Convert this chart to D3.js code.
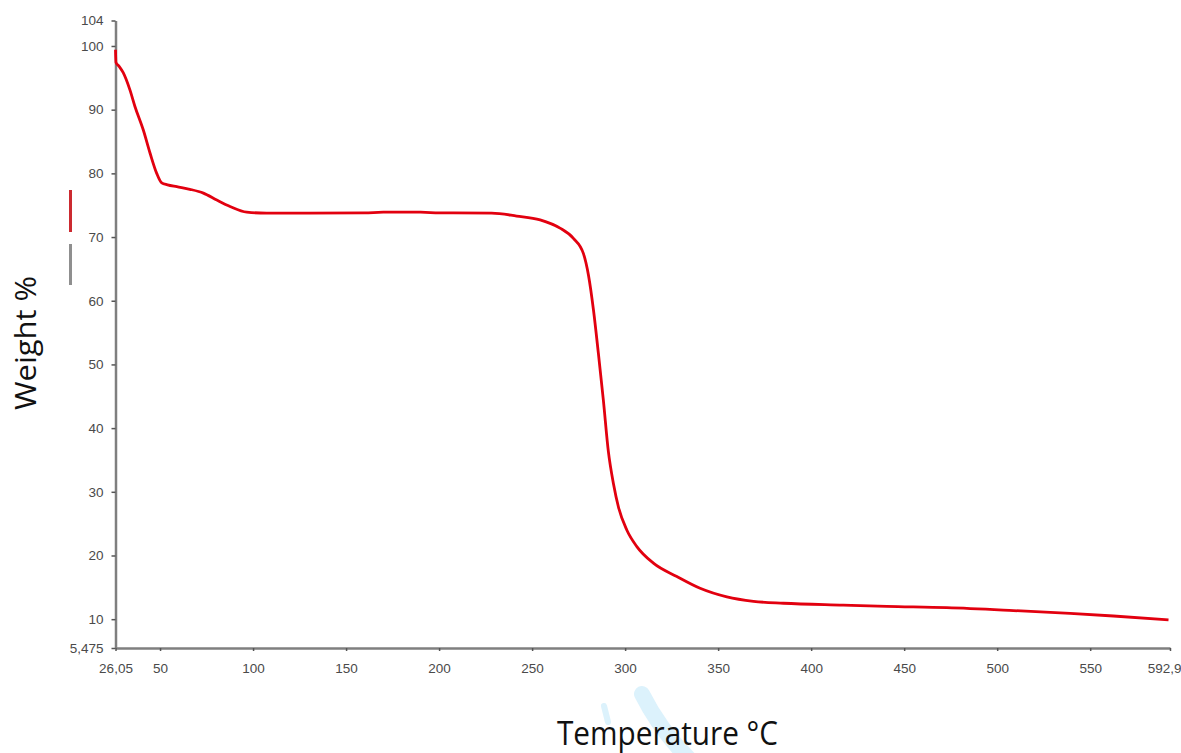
<!DOCTYPE html>
<html>
<head>
<meta charset="utf-8">
<script src="https://cdn.jsdelivr.net/npm/d3@7"></script>
<style>
  html, body { margin: 0; padding: 0; background: #fff; }
  svg { display: block; }
</style>
</head>
<body>
<svg id="chart" width="1181" height="753"></svg>
<script>
// ---- data ----
const temperature = [26.05, 26.3, 28, 30.2, 33.8, 36.5, 41, 44.6, 48.2, 50.9, 54, 59, 66, 73.3, 80.5, 87.6, 96.6, 107.3,
  130, 160, 170, 190, 200, 228.3, 241.7, 254.3, 265, 272.2, 277.6, 280.3, 283, 285.6, 288.3, 291, 293.7, 296.5,
  300.9, 306.3, 315.2, 327.8, 340.3, 354.7, 369, 385.1, 417.3, 440.7, 472.9, 508.7, 539.2, 562.5, 592.1];
const weight = [99.4, 97.4, 96.8, 95.8, 93.1, 90.5, 86.8, 83.2, 80.0, 78.5, 78.2, 77.9, 77.5, 76.9, 75.8, 74.8, 73.9, 73.75,
  73.75, 73.8, 73.9, 73.9, 73.8, 73.75, 73.3, 72.7, 71.4, 69.8, 67.4, 64.0, 58.5, 51.8, 44.4, 36.3, 31.3, 27.5,
  24.0, 21.4, 18.8, 16.7, 14.85, 13.5, 12.8, 12.5, 12.2, 12.0, 11.8, 11.35, 10.9, 10.5, 9.9];

const xTickValues = [26.05, 50, 100, 150, 200, 250, 300, 350, 400, 450, 500, 550, 592.9];
const xTickLabels = ["26,05", "50", "100", "150", "200", "250", "300", "350", "400", "450", "500", "550", "592,9"];
const yTickValues = [5.475, 10, 20, 30, 40, 50, 60, 70, 80, 90, 100, 104];
const yTickLabels = ["5,475", "10", "20", "30", "40", "50", "60", "70", "80", "90", "100", "104"];

const xDomain = [26.05, 592.9];
const yDomain = [5.475, 104];

// ---- drawing ----
const svg = d3.select("#chart");
const x = d3.scaleLinear().domain(xDomain).range([115.5, 1170]);
const y = d3.scaleLinear().domain(yDomain).range([648, 20.5]);

// faint watermark behind axis title
const wm = svg.append("g").attr("fill", "none").attr("stroke", "#dcf2fc").attr("stroke-linecap", "round");
wm.append("path").attr("d", "M642,694 C655,720 670,740 690,760").attr("stroke-width", 16);
wm.append("path").attr("d", "M604,706 L608,722").attr("stroke-width", 6);

const axisColor = "#7f7f7f";
const labelColor = "#4a4a4a";

// y axis
const yAxis = d3.axisLeft(y)
  .tickValues(yTickValues)
  .tickFormat((d, i) => yTickLabels[i])
  .tickSize(4)
  .tickSizeOuter(0)
  .tickPadding(8);
const gy = svg.append("g").attr("transform", `translate(${x(xDomain[0])},0)`).call(yAxis);

// x axis
const xAxis = d3.axisBottom(x)
  .tickValues(xTickValues)
  .tickFormat((d, i) => xTickLabels[i])
  .tickSize(3)
  .tickSizeOuter(0)
  .tickPadding(12);
const gx = svg.append("g").attr("transform", `translate(0,${y(yDomain[0])})`).call(xAxis);

[gx, gy].forEach(g => {
  g.select(".domain").attr("stroke", axisColor).attr("stroke-width", 2.5);
  g.selectAll(".tick line").attr("stroke", "#555").attr("stroke-width", 1.5);
  g.selectAll(".tick text")
    .attr("fill", labelColor)
    .attr("font-family", "Liberation Sans, Arial, sans-serif")
    .attr("font-size", 13.5);
});
// keep the last (partly clipped in the reference) label inside the picture
gx.selectAll(".tick text").filter((d, i) => i === xTickValues.length - 1)
  .attr("text-anchor", "end").attr("dx", 11);

// curve
const data = temperature.map((t, i) => ({ t, w: weight[i] }));
const line = d3.line().x(d => x(d.t)).y(d => y(d.w)).curve(d3.curveMonotoneX);
svg.append("path")
  .datum(data)
  .attr("fill", "none")
  .attr("stroke", "#e2000f")
  .attr("stroke-width", 2.8)
  .attr("stroke-linejoin", "round")
  .attr("d", line);

// little legend marks at left
svg.append("line").attr("x1", 70.5).attr("x2", 70.5).attr("y1", 190).attr("y2", 232)
  .attr("stroke", "#cc2a30").attr("stroke-width", 3);
svg.append("line").attr("x1", 70.5).attr("x2", 70.5).attr("y1", 244).attr("y2", 285)
  .attr("stroke", "#8f8f8f").attr("stroke-width", 3);

// axis titles
svg.append("text")
  .attr("transform", "translate(36,410) rotate(-90)")
  .attr("font-family", "Open Sans, sans-serif")
  .attr("font-size", 29)
  .attr("fill", "#111")
  .attr("textLength", 134)
  .attr("lengthAdjust", "spacingAndGlyphs")
  .text("Weight %");

svg.append("text")
  .attr("x", 557)
  .attr("y", 745)
  .attr("font-family", "Open Sans, sans-serif")
  .attr("font-size", 32)
  .attr("fill", "#111")
  .attr("textLength", 221)
  .attr("lengthAdjust", "spacingAndGlyphs")
  .text("Temperature °C");
</script>
</body>
</html>
